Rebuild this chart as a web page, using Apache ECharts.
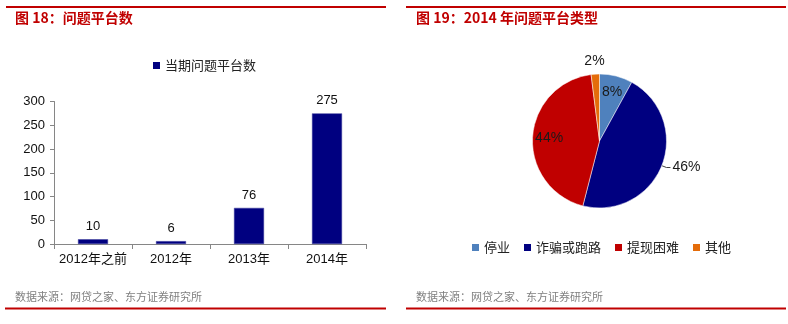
<!DOCTYPE html>
<html>
<head>
<meta charset="utf-8">
<script src="https://cdn.jsdelivr.net/npm/echarts@6/dist/echarts.min.js"></script>
<style>
  html, body { margin: 0; padding: 0; background: #fff; }
  #chart { width: 788px; height: 324px; }
</style>
</head>
<body>
<div id="chart"></div>
<script>
// Figure 18: number of problem platforms per period
const barCategories = ['2012年之前', '2012年', '2013年', '2014年'];
const barValues = [10, 6, 76, 275];
const barSeriesName = '当期问题平台数';
const yTicks = { min: 0, max: 300, interval: 50 };

// Figure 19: 2014 problem platforms by type (percent)
const pieNames = ['停业', '诈骗或跑路', '提现困难', '其他'];
const pieValues = [8, 46, 44, 2];
const pieColors = ['#4F81BD', '#000080', '#C00000', '#E46C0A'];

const titleLeft = '图 18：问题平台数';
const titleRight = '图 19：2014 年问题平台类型';
const sourceText = '数据来源：网贷之家、东方证券研究所';

const RED = '#C00000';
const LATIN = '"Liberation Sans", Arial, "Noto Sans CJK SC", sans-serif';
const CJK = '"Noto Sans CJK SC", "Liberation Sans", sans-serif';

const pieData = pieNames.map((n, i) => ({ name: n, value: pieValues[i], itemStyle: { color: pieColors[i] } }));

// which slices carry their label where
const insideLabelled = ['停业', '提现困难'];
const outsideLabelled = ['诈骗或跑路'];
const topLabelled = ['其他'];

function overlayData(names) {
  return pieNames.map((n, i) => ({
    name: n,
    value: pieValues[i],
    itemStyle: { color: 'rgba(0,0,0,0)' },
    label: { show: names.indexOf(n) >= 0 }
  }));
}

const pieLabelStyle = {
  formatter: '{c}%',
  fontSize: 14,
  color: '#1a1a1a',
  fontFamily: LATIN
};

const headStyle = { color: RED, fontSize: 14, fontWeight: 'bold', fontFamily: CJK };
const noteStyle = { color: '#808080', fontSize: 11, fontWeight: 'normal', fontFamily: CJK };
const legendText = { fontSize: 13, color: '#222', fontFamily: CJK };

const chart = echarts.init(document.getElementById('chart'), null, { renderer: 'canvas' });

chart.setOption({
  animation: false,
  backgroundColor: '#fff',
  title: [
    { text: titleLeft, left: 15, top: 11, padding: 0, textStyle: headStyle },
    { text: titleRight, left: 416, top: 11, padding: 0, textStyle: headStyle },
    { text: sourceText, left: 15, top: 291, padding: 0, textStyle: noteStyle },
    { text: sourceText, left: 416, top: 291, padding: 0, textStyle: noteStyle }
  ],
  graphic: [
    { type: 'line', shape: { x1: 6, y1: 7, x2: 386, y2: 7 }, style: { stroke: RED, lineWidth: 2 } },
    { type: 'line', shape: { x1: 406, y1: 7, x2: 786, y2: 7 }, style: { stroke: RED, lineWidth: 2 } },
    { type: 'line', shape: { x1: 5, y1: 308.5, x2: 386, y2: 308.5 }, style: { stroke: RED, lineWidth: 2 } },
    { type: 'line', shape: { x1: 406, y1: 308.5, x2: 786, y2: 308.5 }, style: { stroke: RED, lineWidth: 2 } }
  ],
  legend: [
    {
      data: [barSeriesName],
      left: 153, top: 59, padding: 0,
      icon: 'rect', itemWidth: 7, itemHeight: 7, itemGap: 14,
      itemStyle: { borderWidth: 0 },
      textStyle: legendText
    },
    {
      data: pieNames,
      left: 472, top: 241, padding: 0,
      icon: 'rect', itemWidth: 7, itemHeight: 7, itemGap: 14,
      itemStyle: { borderWidth: 0 },
      textStyle: legendText
    }
  ],
  grid: { left: 54, top: 101.5, width: 312, height: 142.5, containLabel: false },
  xAxis: {
    type: 'category',
    data: barCategories,
    axisLine: { lineStyle: { color: '#868686', width: 1 } },
    axisTick: { show: true, length: 5, lineStyle: { color: '#868686' } },
    axisLabel: { interval: 0, fontSize: 13, color: '#111', margin: 9, fontFamily: LATIN }
  },
  yAxis: {
    type: 'value',
    min: yTicks.min, max: yTicks.max, interval: yTicks.interval,
    axisLine: { show: true, lineStyle: { color: '#868686', width: 1 } },
    axisTick: { show: true, length: 4, lineStyle: { color: '#868686' } },
    splitLine: { show: false },
    axisLabel: { fontSize: 13, color: '#111', margin: 9, fontFamily: LATIN }
  },
  series: [
    {
      name: barSeriesName,
      type: 'bar',
      data: barValues,
      barWidth: 30,
      itemStyle: { color: '#000080', borderColor: '#3a3a9a', borderWidth: 0.5 },
      label: { show: true, position: 'top', distance: 6, fontSize: 13, color: '#111', fontFamily: LATIN }
    },
    {
      name: 'pie-main',
      type: 'pie',
      center: [599.5, 141],
      radius: [0, 67],
      startAngle: 90,
      clockwise: true,
      avoidLabelOverlap: false,
      data: pieNames.map((n, i) => Object.assign({}, pieData[i], {
        label: { show: outsideLabelled.indexOf(n) >= 0 },
        labelLine: { show: outsideLabelled.indexOf(n) >= 0 }
      })),
      itemStyle: { borderColor: '#fff', borderWidth: 0.5 },
      label: Object.assign({ position: 'outside', distanceToLabelLine: 2 }, pieLabelStyle),
      labelLine: { length: 5, length2: 4, lineStyle: { color: '#444', width: 1 } }
    },
    {
      name: 'pie-inner-labels',
      type: 'pie',
      silent: true,
      center: [599.5, 141],
      radius: [28, 67],
      startAngle: 90,
      data: overlayData(insideLabelled),
      label: Object.assign({ position: 'inside' }, pieLabelStyle),
      labelLine: { show: false }
    },
    {
      name: 'pie-top-labels',
      type: 'pie',
      silent: true,
      center: [599.5, 141],
      radius: [67, 87],
      startAngle: 90,
      data: overlayData(topLabelled),
      label: Object.assign({ position: 'inside' }, pieLabelStyle),
      labelLine: { show: false }
    }
  ]
});
</script>
</body>
</html>
